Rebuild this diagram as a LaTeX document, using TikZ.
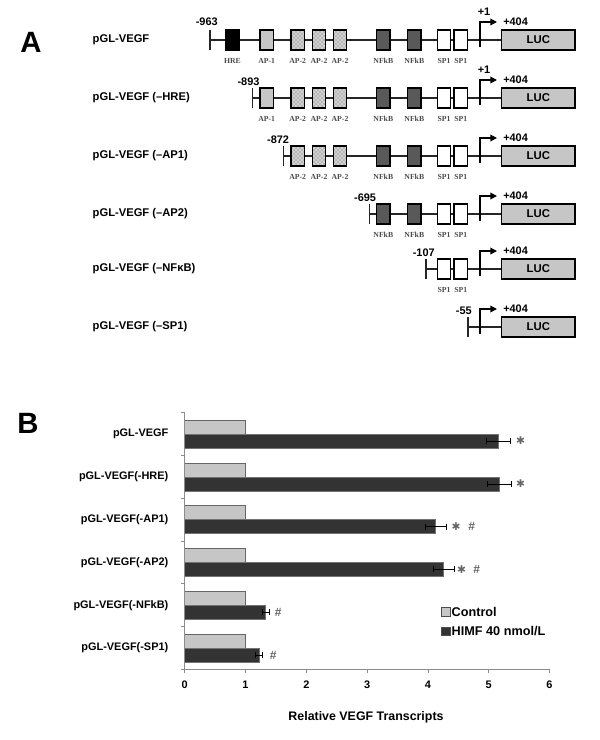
\documentclass[tikz,border=0pt]{standalone}
\usepackage{fontspec}
\setmainfont{Liberation Sans}
\newfontfamily\sitefont{Liberation Serif}
\newfontfamily\dingfont{DejaVu Sans}
\usetikzlibrary{arrows.meta,patterns,positioning}

\tikzset{
  dna/.style={line width=1.1pt, black!85},
  site/.style={draw=black, line width=1.1pt, minimum width=10pt, minimum height=15pt, inner sep=0pt},
  hre/.style={site, fill=black},
  ap1/.style={site, fill=gray!45},
  ap2/.style={site, preaction={fill=gray!35}, pattern=crosshatch dots, pattern color=black!65},
  nfkb/.style={site, fill=black!65},
  sp1/.style={site, fill=white},
  luc/.style={draw=black, line width=1.1pt, fill=gray!45, minimum width=55pt, minimum height=15pt, inner sep=0pt, font=\fontsize{8.5}{9}\bfseries},
  sitelbl/.style={font=\sitefont\fontsize{5.8}{6}\bfseries, text=black!70},
  construct/.style={anchor=west, font=\fontsize{8.4}{9}\bfseries},
  numlbl/.style={font=\fontsize{8.2}{9}\bfseries, inner sep=0pt},
  tss/.style={line width=1pt, -{Triangle[length=5pt,width=5pt]}},
  panel/.style={font=\fontsize{22}{26}\bfseries},
  ctrl/.style={draw=black!60, fill=gray!45, line width=0.5pt},
  himf/.style={draw=black!55, fill=black!80, line width=0.5pt},
  errbar/.style={black, line width=0.6pt},
  axis/.style={draw=gray!90, line width=0.6pt},
  catlbl/.style={anchor=east, font=\fontsize{8.2}{9}\bfseries},
  sigmark/.style={text=black!60, font=\fontsize{9}{9}\bfseries, inner sep=0pt},
  star/.style={sigmark, font=\dingfont\fontsize{8}{8}\selectfont}
}

\begin{document}
\begin{tikzpicture}[x=0.75pt, y=-0.75pt]
  \useasboundingbox (0,0) rectangle (600,740);

  % ---------- panel A ----------
  \node[panel] (A) at (31,42) {A};

  % full length promoter
  \node[construct] (n1) at (88,40) {pGL-VEGF};
  \coordinate (s1) at (210,40);
  \node[luc] (luc1) at (538.3,40) {LUC};
  \draw[dna] (s1) -- (luc1.west);
  \draw[dna] (s1) ++(0,-10) -- ++(0,20);
  \node[numlbl, anchor=south east] at ([shift={(8,-14)}]s1) {-963};
  \foreach \x/\k/\t in {232.5/hre/HRE, 266.7/ap1/AP-1, 297.7/ap2/AP-2, 319/ap2/AP-2, 340/ap2/AP-2,
                        383.3/nfkb/NFkB, 414.3/nfkb/NFkB, 444/sp1/SP1, 460.7/sp1/SP1} {
    \node[\k] at (\x,40) {};
    \node[sitelbl] at (\x,61) {\t};
  }
  \draw[tss] (480,47) -- (480,22) -- (497,22);
  \node[numlbl] at (484,12) {+1};
  \node[numlbl, anchor=west] at (503,22) {+404};

  % -HRE
  \node[construct] (n2) at (88,98) {pGL-VEGF (–HRE)};
  \coordinate (s2) at (252.7,98);
  \node[luc] (luc2) at (538.3,98) {LUC};
  \draw[dna] (s2) -- (luc2.west);
  \draw[dna] (s2) ++(0,-10) -- ++(0,20);
  \node[numlbl, anchor=south east] at ([shift={(7,-12)}]s2) {-893};
  \foreach \x/\k/\t in {266.7/ap1/AP-1, 297.7/ap2/AP-2, 319/ap2/AP-2, 340/ap2/AP-2,
                        383.3/nfkb/NFkB, 414.3/nfkb/NFkB, 444/sp1/SP1, 460.7/sp1/SP1} {
    \node[\k] at (\x,98) {};
    \node[sitelbl] at (\x,119) {\t};
  }
  \draw[tss] (480,105) -- (480,80) -- (497,80);
  \node[numlbl] at (484,70) {+1};
  \node[numlbl, anchor=west] at (503,80) {+404};

  % -AP1
  \node[construct] (n3) at (88,156) {pGL-VEGF (–AP1)};
  \coordinate (s3) at (283.3,156);
  \node[luc] (luc3) at (538.3,156) {LUC};
  \draw[dna] (s3) -- (luc3.west);
  \draw[dna] (s3) ++(0,-10) -- ++(0,20);
  \node[numlbl, anchor=south east] at ([shift={(6,-12)}]s3) {-872};
  \foreach \x/\k/\t in {297.7/ap2/AP-2, 319/ap2/AP-2, 340/ap2/AP-2,
                        383.3/nfkb/NFkB, 414.3/nfkb/NFkB, 444/sp1/SP1, 460.7/sp1/SP1} {
    \node[\k] at (\x,156) {};
    \node[sitelbl] at (\x,177) {\t};
  }
  \draw[tss] (480,163) -- (480,138) -- (497,138);
  \node[numlbl, anchor=west] at (503,138) {+404};

  % -AP2
  \node[construct] (n4) at (88,214) {pGL-VEGF (–AP2)};
  \coordinate (s4) at (369.3,214);
  \node[luc] (luc4) at (538.3,214) {LUC};
  \draw[dna] (s4) -- (luc4.west);
  \draw[dna] (s4) ++(0,-10) -- ++(0,20);
  \node[numlbl, anchor=south east] at ([shift={(7,-12)}]s4) {-695};
  \foreach \x/\k/\t in {383.3/nfkb/NFkB, 414.3/nfkb/NFkB, 444/sp1/SP1, 460.7/sp1/SP1} {
    \node[\k] at (\x,214) {};
    \node[sitelbl] at (\x,235) {\t};
  }
  \draw[tss] (480,221) -- (480,196) -- (497,196);
  \node[numlbl, anchor=west] at (503,196) {+404};

  % -NFkB
  \node[construct] (n5) at (88,269) {pGL-VEGF (–NFκB)};
  \coordinate (s5) at (426,269);
  \node[luc] (luc5) at (538.3,269) {LUC};
  \draw[dna] (s5) -- (luc5.west);
  \draw[dna] (s5) ++(0,-10) -- ++(0,20);
  \node[numlbl, anchor=south east] at ([shift={(9,-12)}]s5) {-107};
  \foreach \x/\k/\t in {444/sp1/SP1, 460.7/sp1/SP1} {
    \node[\k] at (\x,269) {};
    \node[sitelbl] at (\x,290) {\t};
  }
  \draw[tss] (480,276) -- (480,251) -- (497,251);
  \node[numlbl, anchor=west] at (503,251) {+404};

  % -SP1
  \node[construct] (n6) at (88,327) {pGL-VEGF (–SP1)};
  \coordinate (s6) at (468,327);
  \node[luc] (luc6) at (538.3,327) {LUC};
  \draw[dna] (s6) -- (luc6.west);
  \draw[dna] (s6) ++(0,-10) -- ++(0,20);
  \node[numlbl, anchor=south east] at ([shift={(4,-12)}]s6) {-55};
  \draw[tss] (480,334) -- (480,309) -- (497,309);
  \node[numlbl, anchor=west] at (503,309) {+404};

  % ---------- panel B ----------
  \node[panel] (B) at (28,423) {B};

  % bars: centre / HIMF value / error
  \foreach \c/\h/\e in {434.1/5.16/0.2, 476.9/5.18/0.2, 519.6/4.13/0.17,
                        562.4/4.26/0.17, 605.2/1.33/0.06, 648.0/1.22/0.05} {
    \draw[ctrl] (184.7,\c-14) rectangle (245.5,\c);
    \draw[himf] (184.7,\c) rectangle ({184.7+60.8*\h},\c+14);
    \draw[errbar] ({184.7+60.8*(\h-\e)},\c+7) -- ({184.7+60.8*(\h+\e)},\c+7);
    \draw[errbar] ({184.7+60.8*(\h-\e)},\c+4) -- ++(0,6);
    \draw[errbar] ({184.7+60.8*(\h+\e)},\c+4) -- ++(0,6);
  }

  \node[catlbl] (c1) at (173,434.1) {pGL-VEGF};
  \node[catlbl] (c2) at (173,476.9) {pGL-VEGF(-HRE)};
  \node[catlbl] (c3) at (173,519.6) {pGL-VEGF(-AP1)};
  \node[catlbl] (c4) at (173,562.4) {pGL-VEGF(-AP2)};
  \node[catlbl] (c5) at (173,605.2) {pGL-VEGF(-NFkB)};
  \node[catlbl] (c6) at (173,648.0) {pGL-VEGF(-SP1)};

  % significance marks
  \node[star] at (520.7,441.1) {✱};
  \node[star] at (520.7,483.9) {✱};
  \node[star] at (456,526.6) {✱};
  \node[sigmark] at (471.7,526.6) {\#};
  \node[star] at (461.7,569.4) {✱};
  \node[sigmark] at (476.7,569.4) {\#};
  \node[sigmark] at (278.3,612.2) {\#};
  \node[sigmark] at (273.3,655.0) {\#};

  % axes
  \draw[axis] (184.7,412.7) -- (184.7,669.3) -- (549.3,669.3);
  \foreach \i in {0,...,6} {
    \draw[axis] ({184.7+60.8*\i},669.3) -- ++(0,4);
    \node[numlbl] at ({184.7+60.8*\i},685) {\i};
  }
  \foreach \i in {0,...,6} {
    \draw[axis] (184.7,{412.7+42.77*\i}) -- ++(-4,0);
  }
  \node[font=\fontsize{9.3}{10}\bfseries] (xt) at (366,717) {Relative VEGF Transcripts};

  % legend
  \node[draw=black!70, fill=gray!45, minimum size=6.5pt, inner sep=0pt] (lc) at (445.5,611.5) {};
  \node[anchor=west, font=\fontsize{9.5}{10}\bfseries, inner sep=1pt] (lct) at (lc.east) {Control};
  \node[draw=black!70, fill=black!80, minimum size=6.5pt, inner sep=0pt] (lh) at (445.5,631.3) {};
  \node[anchor=west, font=\fontsize{9.5}{10}\bfseries, inner sep=1pt] (lht) at (lh.east) {HIMF 40 nmol/L};
\end{tikzpicture}
\end{document}
